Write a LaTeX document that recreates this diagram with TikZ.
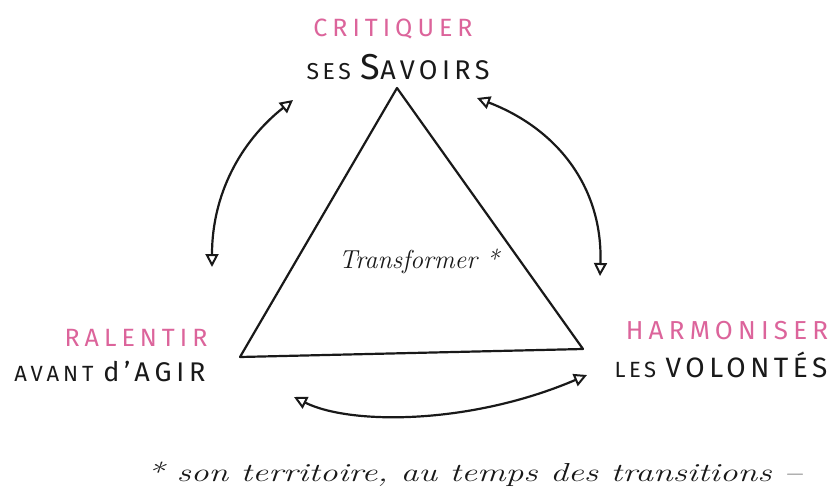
\documentclass[tikz,border=0pt]{standalone}
\usepackage{fontspec}
\setsansfont{Fira Sans}
\usetikzlibrary{arrows.meta}
\definecolor{rose}{RGB}{220,100,155}
\definecolor{ink}{RGB}{25,25,25}
\tikzset{
  pinklabel/.style={text=rose, font=\sffamily\fontsize{25}{27}\selectfont\addfontfeatures{LetterSpace=20}, inner sep=0pt},
  blacklabel/.style={text=ink, font=\sffamily\fontsize{22}{24}\selectfont\addfontfeatures{LetterSpace=16}, inner sep=0pt},
  script/.style={text=ink, font=\itshape\fontsize{26}{28}\selectfont, inner sep=0pt},
  side/.style={draw=ink, line width=2.2pt, line join=round},
  link/.style={draw=ink, line width=2.2pt, {Triangle[open, length=13pt, width=13pt, line width=2pt]}-{Triangle[open, length=13pt, width=13pt, line width=2pt]}}
}
\begin{document}
\begin{tikzpicture}[x=1pt,y=-1pt]
\useasboundingbox[fill=white] (0,0) rectangle (832,503);
% triangle
\coordinate (top) at (397,88);
\coordinate (bl) at (240,357);
\coordinate (br) at (583,349);
\draw[side] (top) -- (bl) -- (br) -- cycle;
% labels
\node[pinklabel] (crit) at (393,29) {CRITIQUER};
\node[blacklabel] (sav) at (398,67) {\fontsize{23}{25}\selectfont SES \fontsize{36}{38}\selectfont S\fontsize{27}{29}\selectfont AVOIRS};
\node[pinklabel] (ral) at (136,338) {RALENTIR};
\node[blacklabel, font=\sffamily\fontsize{22}{24}\selectfont\addfontfeatures{LetterSpace=18}] (agir) at (110,371) {AVANT \fontsize{27}{29}\selectfont d'AGIR};
\node[pinklabel, font=\sffamily\fontsize{26}{28}\selectfont\addfontfeatures{LetterSpace=20}] (harm) at (727,331) {HARMONISER};
\node[blacklabel] (vol) at (721,365) {\fontsize{22}{24}\selectfont LES \fontsize{28}{30}\selectfont VOLONTÉS};
\node[script] (trans) at (419,261) {Transformer *};
\node[script, xscale=1.37] (note) at (474,474) {* son territoire, au temps des transitions --};
% arrows
\coordinate (l1) at (212,267);
\coordinate (l2) at (293,100);
\coordinate (r1) at (477,98);
\coordinate (r2) at (600,276);
\coordinate (b1) at (294,397);
\coordinate (b2) at (587,375);
\draw[link] (l1) .. controls (212,195) and (240,142) .. (l2);
\draw[link] (r1) .. controls (560,130) and (603,190) .. (r2);
\draw[link] (b1) .. controls (350,425) and (470,425) .. (b2);
\end{tikzpicture}
\end{document}
